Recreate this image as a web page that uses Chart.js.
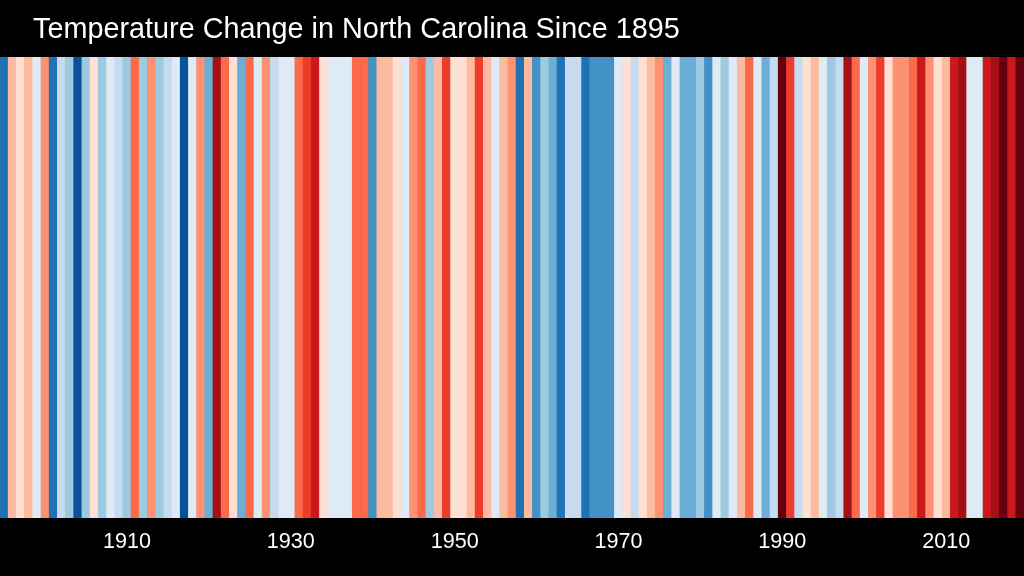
<!DOCTYPE html>
<html>
<head>
<meta charset="utf-8">
<script src="https://cdn.jsdelivr.net/npm/chart.js@4"></script>
<style>
html,body{margin:0;padding:0;background:#000;width:1024px;height:576px;overflow:hidden}
#box{position:absolute;left:0;top:0;width:1024px;height:576px}
</style>
</head>
<body>
<div id="box"><canvas id="c" width="1024" height="576"></canvas></div>
<script>
const titleText = "Temperature Change in North Carolina Since 1895";
const firstYear = 1895;
// Anomaly class of each year, read from the stripe colours (-7 coldest ... +8 hottest, never 0)
const anomalyClass = [
 -6, 2, 1, 2,-1, 3,-6,-2,-3,-7,
 -3, 1,-3,-1,-2,-3, 4,-3, 3,-3,
 -2,-1,-7,-1, 3,-4, 7, 4, 1,-4,
  4,-1, 3,-2,-1,-1, 4, 5, 6, 1,
 -1,-1,-1, 4, 4,-5, 2, 2, 1,-1,
  3, 4,-3, 2, 5, 1, 1, 2, 5, 2,
 -1, 2, 3,-6, 2,-5,-3,-4,-6,-2,
 -2,-6,-5,-5,-5,-1, 1,-2, 1, 2,
  3,-4,-1,-4,-4,-3,-5,-1,-3,-1,
  2, 4,-1,-4,-2, 8, 5,-2, 1, 2,
 -1,-3,-2, 7, 4,-1, 3, 5, 1, 3,
  3, 4, 6, 3, 1, 2, 6, 7,-1,-1,
  6, 7, 8, 6, 8
];
const blues = ["#deebf7","#c6dbef","#9ecae1","#6baed6","#4292c6","#2171b5","#08519c"];
const reds  = ["#fee0d2","#fcbba1","#fc9272","#fb6a4a","#ef3b2c","#cb181d","#a50f15","#67000d"];
const labelledYears = [1910,1930,1950,1970,1990,2010];

const years = anomalyClass.map((_, i) => firstYear + i);
const stripeHeight = anomalyClass.map(() => 1);
const stripeColor = anomalyClass.map(v => v > 0 ? reds[v - 1] : blues[-v - 1]);

const moveTitle = {
  id: "moveTitle",
  afterLayout(chart){ if (chart.titleBlock) chart.titleBlock.left = 33; }
};

new Chart(document.getElementById("c"), {
  type: "bar",
  data: {
    labels: years,
    datasets: [{
      data: stripeHeight,
      backgroundColor: stripeColor,
      borderColor: stripeColor,
      borderWidth: 0,
      barPercentage: 1.0,
      categoryPercentage: 1.0
    }]
  },
  plugins: [moveTitle],
  options: {
    responsive: false,
    animation: false,
    devicePixelRatio: 1,
    layout: { padding: 0 },
    plugins: {
      legend: { display: false },
      tooltip: { enabled: false },
      title: {
        display: true,
        text: titleText,
        align: "start",
        color: "#ffffff",
        font: { family: "'Liberation Sans', Arial, sans-serif", size: 28.8, weight: "normal", lineHeight: 1.2 },
        padding: { top: 13, bottom: 9.44 }
      }
    },
    scales: {
      x: {
        grid: { display: false, drawTicks: false },
        border: { display: false },
        afterFit(s){ s.height = 58; s.paddingLeft = 0; s.paddingRight = 0; },
        ticks: {
          autoSkip: false,
          maxRotation: 0,
          minRotation: 0,
          padding: 11,
          color: "#ffffff",
          font: { family: "'Liberation Sans', Arial, sans-serif", size: 21.6 },
          callback(value){
            const y = this.getLabelForValue(value);
            return labelledYears.includes(Number(y)) ? String(y) : "";
          }
        }
      },
      y: { display: false, min: 0, max: 1 }
    }
  }
});
</script>
</body>
</html>
